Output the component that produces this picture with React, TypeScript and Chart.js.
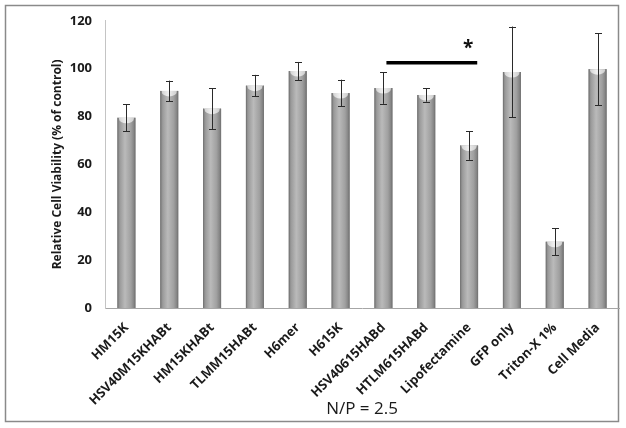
import React, { useEffect, useRef } from 'react';
import { Chart, registerables } from 'chart.js';

Chart.register(...registerables);

const categories = [
  'HM15K',
  'HSV40M15KHABt',
  'HM15KHABt',
  'TLMM15HABt',
  'H6mer',
  'H615K',
  'HSV40615HABd',
  'HTLM615HABd',
  'Lipofectamine',
  'GFP only',
  'Triton-X 1%',
  'Cell Media',
];
const viability = [79.5, 90.7, 83.3, 92.9, 99.0, 89.8, 91.9, 89.0, 67.9, 98.6, 27.7, 99.8];
const errors = [5.7, 4.3, 8.5, 4.5, 3.8, 5.6, 6.6, 2.8, 6.0, 19.0, 5.6, 15.0];
const yTicks = [0, 20, 40, 60, 80, 100, 120];
const sigFrom = 6;
const sigTo = 8;
const sigLevel = 102.5;
const sigLabel = '*';

const FONT = '"Open Sans", Lato, sans-serif';

const decor = {
  id: 'decor',
  beforeDraw(chart: any) {
    const ctx = chart.ctx;
    ctx.save();
    ctx.fillStyle = '#ffffff';
    ctx.fillRect(0, 0, chart.width, chart.height);
    ctx.strokeStyle = '#8a8a8a';
    ctx.lineWidth = 1.5;
    ctx.strokeRect(5.5, 5.5, 613, 416);
    ctx.restore();
  },
  afterDatasetsDraw(chart: any) {
    const ctx = chart.ctx;
    const meta = chart.getDatasetMeta(0);
    const ys = chart.scales.y;
    const xs = chart.scales.x;
    ctx.save();
    meta.data.forEach((bar: any, i: number) => {
      const { x, y, base, width } = bar.getProps(['x', 'y', 'base', 'width'], true);
      const l = x - width / 2;
      const r = x + width / 2;
      const g = ctx.createLinearGradient(l, 0, r, 0);
      g.addColorStop(0, '#808080');
      g.addColorStop(0.15, '#9c9c9c');
      g.addColorStop(0.42, '#bababa');
      g.addColorStop(0.75, '#a0a0a0');
      g.addColorStop(1, '#777777');
      ctx.fillStyle = g;
      ctx.fillRect(l, y, width, base - y);
      // top cap highlight
      ctx.save();
      ctx.beginPath();
      ctx.rect(l, y, width, base - y);
      ctx.clip();
      const cg = ctx.createLinearGradient(l, 0, r, 0);
      cg.addColorStop(0, '#cccccc');
      cg.addColorStop(0.45, '#f0f0f0');
      cg.addColorStop(1, '#c8c8c8');
      ctx.fillStyle = cg;
      ctx.beginPath();
      ctx.ellipse(x, y + 1, width / 2 - 1.5, 4.5, 0, 0, Math.PI * 2);
      ctx.fill();
      ctx.restore();
      // edges
      ctx.strokeStyle = '#777777';
      ctx.lineWidth = 1;
      ctx.beginPath();
      ctx.moveTo(l + 0.5, y);
      ctx.lineTo(l + 0.5, base);
      ctx.moveTo(r - 0.5, y);
      ctx.lineTo(r - 0.5, base);
      ctx.stroke();
      // error bar
      const hi = ys.getPixelForValue(viability[i] + errors[i]);
      const lo = ys.getPixelForValue(viability[i] - errors[i]);
      const cx = Math.round(x) + 0.5;
      ctx.strokeStyle = '#2a2a2a';
      ctx.lineWidth = 1;
      ctx.beginPath();
      ctx.moveTo(cx, hi);
      ctx.lineTo(cx, lo);
      ctx.moveTo(cx - 3.5, Math.round(hi) + 0.5);
      ctx.lineTo(cx + 3.5, Math.round(hi) + 0.5);
      ctx.moveTo(cx - 3.5, Math.round(lo) + 0.5);
      ctx.lineTo(cx + 3.5, Math.round(lo) + 0.5);
      ctx.stroke();
    });
    // significance bar
    const step = xs.getPixelForValue(1) - xs.getPixelForValue(0);
    const x1 = xs.getPixelForValue(sigFrom) + step * 0.07;
    const x2 = xs.getPixelForValue(sigTo) + step * 0.19;
    const sy = ys.getPixelForValue(sigLevel);
    ctx.strokeStyle = '#000000';
    ctx.lineWidth = 3.5;
    ctx.beginPath();
    ctx.moveTo(x1, sy);
    ctx.lineTo(x2, sy);
    ctx.stroke();
    ctx.fillStyle = '#111111';
    ctx.font = 'bold 19px ' + FONT;
    ctx.textAlign = 'center';
    ctx.textBaseline = 'middle';
    ctx.fillText(sigLabel, xs.getPixelForValue(sigTo) - 1, sy - 14);
    ctx.restore();
  },
};

export default function App() {
  const ref = useRef<HTMLCanvasElement | null>(null);
  useEffect(() => {
    if (!ref.current) return;
    const chart = new Chart(ref.current, {
      type: 'bar',
      data: {
        labels: categories,
        datasets: [
          {
            data: viability,
            backgroundColor: 'rgba(0,0,0,0)',
            borderWidth: 0,
            barPercentage: 0.42,
            categoryPercentage: 1,
          },
        ],
      },
      options: {
        responsive: false,
        animation: false,
        layout: { padding: { left: 50, right: 7, top: 16, bottom: 9 } },
        plugins: { legend: { display: false }, tooltip: { enabled: false } },
        scales: {
          x: {
            grid: { display: false },
            border: { display: true, color: '#a6a6a6', width: 1 },
            ticks: {
              autoSkip: false,
              maxRotation: 45,
              minRotation: 45,
              padding: 4,
              color: '#1a1a1a',
              font: { family: FONT, size: 13, weight: 'bold' },
            },
            title: {
              display: true,
              text: 'N/P = 2.5',
              color: '#1a1a1a',
              padding: 0,
              font: { family: FONT, size: 17, weight: 'normal' },
            },
            afterFit: (s: any) => {
              s.height = 111;
            },
          },
          y: {
            min: 0,
            max: 120,
            grid: { display: false, drawTicks: false },
            border: { display: true, color: '#c4c4c4', width: 1 },
            afterBuildTicks: (s: any) => {
              s.ticks = yTicks.map((v) => ({ value: v }));
            },
            ticks: {
              padding: 13,
              color: '#1a1a1a',
              font: { family: FONT, size: 13, weight: 'bold' },
            },
            title: {
              display: true,
              text: 'Relative Cell Viability (% of control)',
              color: '#1a1a1a',
              padding: 0,
              font: { family: FONT, size: 12, weight: 'bold' },
            },
            afterFit: (s: any) => {
              s.width = 55;
            },
          },
        },
      },
      plugins: [decor],
    });
    return () => chart.destroy();
  }, []);
  return (
    <div style={{ position: 'absolute', left: 0, top: 0, width: 626, height: 428 }}>
      <canvas ref={ref} width={626} height={428} style={{ display: 'block' }} />
    </div>
  );
}
